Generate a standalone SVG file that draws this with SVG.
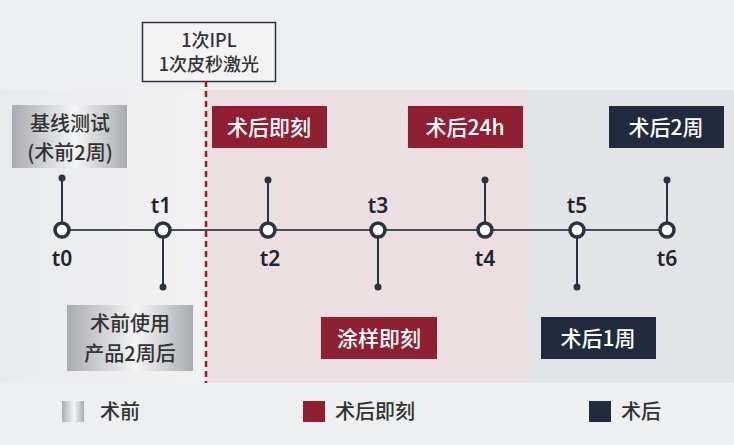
<svg xmlns="http://www.w3.org/2000/svg" width="734" height="445" viewBox="0 0 734 445">
<defs>
<linearGradient id="silver" x1="0" y1="0" x2="1" y2="0">
<stop offset="0" stop-color="#a9abb0"/><stop offset="0.55" stop-color="#f4f5f6"/><stop offset="1" stop-color="#a9abb0"/>
</linearGradient>
<linearGradient id="bg" x1="0" y1="0" x2="1" y2="0">
<stop offset="0" stop-color="#e9eaec"/><stop offset="1" stop-color="#f2f2f3"/>
</linearGradient>
</defs>
<style>
text{font-family:"Noto Sans CJK SC","Noto Sans",sans-serif;font-weight:500;}
.lbl{font-size:21px;fill:#fff;text-anchor:middle;}
.dk{fill:#333;}
.t{font-size:21px;fill:#1f2530;text-anchor:middle;font-family:"Noto Sans",sans-serif;font-weight:600;}
.stem{stroke:#2c3340;stroke-width:2;}
.node{fill:#fff;stroke:#2c3340;stroke-width:3.5;}
.red{fill:#8f1f33;}
.navy{fill:#222a3d;}
</style>
<rect width="734" height="445" fill="#eeeff0"/>
<rect x="0" y="90" width="206" height="293" fill="url(#bg)"/>
<rect x="206" y="90" width="322" height="293" fill="#ecdfe2"/>
<rect x="528" y="90" width="206" height="293" fill="#e2e4e7"/>
<g id="ipl">
<rect x="142.5" y="22.5" width="133" height="59" fill="#f3f3f4" stroke="#2c3340" stroke-width="1.5"/>
<text x="209" y="47" text-anchor="middle" font-size="18" class="dk">1次IPL</text>
<text x="209" y="71" text-anchor="middle" font-size="18" class="dk">1次皮秒激光</text>
</g>
<g id="connectors">
<line x1="206" y1="81" x2="206" y2="383" stroke="#8f1f33" stroke-width="2.5" stroke-dasharray="6,4"/>
<line x1="62" y1="230" x2="667" y2="230" stroke="#4a505b" stroke-width="2"/>
<line class="stem" x1="62" y1="178" x2="62" y2="230"/><circle cx="62" cy="178" r="3.5" fill="#2c3340"/>
<line class="stem" x1="163" y1="230" x2="163" y2="287"/><circle cx="163" cy="287" r="3.5" fill="#2c3340"/>
<line class="stem" x1="268" y1="180" x2="268" y2="230"/><circle cx="268" cy="180" r="3.5" fill="#2c3340"/>
<line class="stem" x1="378" y1="230" x2="378" y2="287"/><circle cx="378" cy="287" r="3.5" fill="#2c3340"/>
<line class="stem" x1="485" y1="180" x2="485" y2="230"/><circle cx="485" cy="180" r="3.5" fill="#2c3340"/>
<line class="stem" x1="577" y1="230" x2="577" y2="287"/><circle cx="577" cy="287" r="3.5" fill="#2c3340"/>
<line class="stem" x1="667" y1="180" x2="667" y2="230"/><circle cx="667" cy="180" r="3.5" fill="#2c3340"/>
</g>
<g id="t0"><circle class="node" cx="62" cy="230" r="7"/><text class="t" x="62" y="266">t0</text></g>
<g id="t1"><circle class="node" cx="163" cy="230" r="7"/><text class="t" x="161" y="213">t1</text></g>
<g id="t2"><circle class="node" cx="268" cy="230" r="7"/><text class="t" x="270" y="266">t2</text></g>
<g id="t3"><circle class="node" cx="378" cy="230" r="7"/><text class="t" x="378" y="213">t3</text></g>
<g id="t4"><circle class="node" cx="485" cy="230" r="7"/><text class="t" x="485" y="266">t4</text></g>
<g id="t5"><circle class="node" cx="577" cy="230" r="7"/><text class="t" x="577" y="213">t5</text></g>
<g id="t6"><circle class="node" cx="667" cy="230" r="7"/><text class="t" x="667" y="266">t6</text></g>
<g id="baseline"><rect x="12" y="105" width="115" height="63" fill="url(#silver)"/>
<text class="lbl" x="70" y="131" style="fill:#333;font-size:20px">基线测试</text><text class="lbl" x="70" y="160" style="fill:#333;font-size:20px">(术前2周)</text></g>
<g id="pre"><rect x="67" y="305" width="126" height="66" fill="url(#silver)"/>
<text class="lbl" x="130" y="331" style="fill:#333;font-size:20px">术前使用</text><text class="lbl" x="130" y="361" style="fill:#333;font-size:20px">产品2周后</text></g>
<g id="post0"><rect class="red" x="212" y="106" width="115" height="42"/><text class="lbl" x="269" y="135">术后即刻</text></g>
<g id="post24"><rect class="red" x="408" y="106" width="115" height="42"/><text class="lbl" x="465" y="135">术后24h</text></g>
<g id="post2w"><rect class="navy" x="609" y="106" width="115" height="42"/><text class="lbl" x="666" y="135">术后2周</text></g>
<g id="apply"><rect class="red" x="321" y="317" width="116" height="42"/><text class="lbl" x="379" y="346">涂样即刻</text></g>
<g id="post1w"><rect class="navy" x="541" y="317" width="115" height="42"/><text class="lbl" x="598" y="346">术后1周</text></g>
<g id="legend">
<rect x="62" y="401" width="22" height="21" fill="url(#silver)"/><text x="100" y="419" font-size="20" class="dk">术前</text>
<rect class="red" x="303" y="401" width="22" height="21"/><text x="335" y="419" font-size="20" class="dk">术后即刻</text>
<rect class="navy" x="589" y="401" width="22" height="21"/><text x="621" y="419" font-size="20" class="dk">术后</text>
</g>
</svg>
